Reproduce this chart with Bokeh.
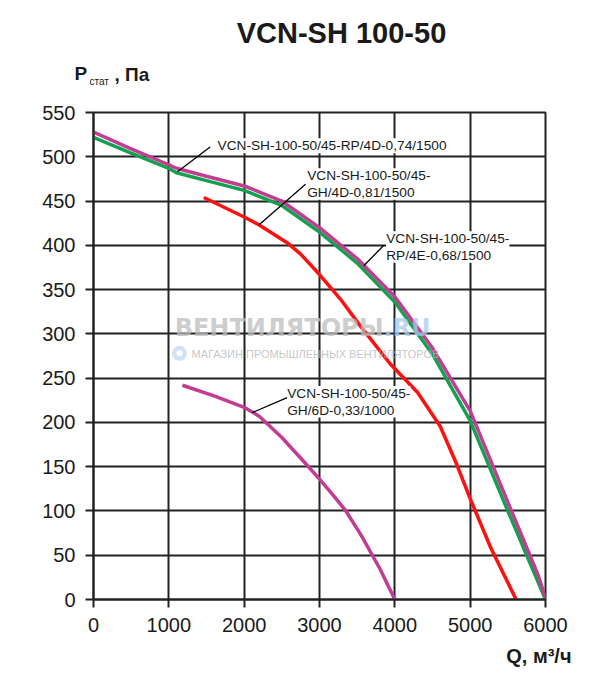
from bokeh.plotting import figure
from bokeh.models import Range1d, FixedTicker, Label
from bokeh.embed import file_html
from bokeh.resources import INLINE

# Кривые вентиляторов VCN-SH 100-50 (Q, м3/ч -> Pстат, Па)
q_rp4d = [0, 500, 1000, 1100, 1500, 2000, 2500, 3000, 3500, 4000, 4500, 5000, 5500, 5900, 6000]
p_rp4d = [528, 509, 491, 487, 478, 467, 450, 420, 385, 342, 284, 213, 110, 28, 2]

q_rp4e = [0, 500, 1000, 1100, 1500, 2000, 2500, 3000, 3500, 4000, 4500, 5000, 5500, 6000]
p_rp4e = [522, 504, 487, 482, 473, 462, 445, 415, 380, 336, 277, 202, 100, 0]

q_gh4d = [1464, 2000, 2200, 2570, 2750, 3000, 3280, 3540, 3800, 3940, 4300, 4600, 4820, 5000, 5270, 5610]
p_gh4d = [454, 432, 423, 403, 390, 367, 339, 309, 281, 266, 234, 196, 153, 114, 59, 0]

q_gh6d = [1180, 1600, 2000, 2200, 2500, 2800, 3000, 3200, 3350, 3550, 3800, 4000]
p_gh6d = [242, 230, 217, 207, 183, 155, 136, 116, 100, 73, 35, 0]

q_ticks = [0, 1000, 2000, 3000, 4000, 5000, 6000]
p_ticks = [0, 50, 100, 150, 200, 250, 300, 350, 400, 450, 500, 550]

# подписи кривых: текст, позиция текста, выноска (x0, y0, x1, y1)
labels = ["VCN-SH-100-50/45-RP/4D-0,74/1500",
          "VCN-SH-100-50/45-\nGH/4D-0,81/1500",
          "VCN-SH-100-50/45-\nRP/4E-0,68/1500",
          "VCN-SH-100-50/45-\nGH/6D-0,33/1000"]
label_x = [1646, 2837, 3885, 2571]
label_y = [521, 487, 416, 241]
lead_x0 = [1115, 2195, 3588, 2106]
lead_y0 = [483, 423, 377, 211]
lead_x1 = [1548, 2814, 3854, 2571]
lead_y1 = [511, 469, 400, 228]

FONT = "Liberation Sans"
GRID = "#222222"
INK = "#1a1a1a"

p = figure(frame_width=452, frame_height=487, min_border_left=93, min_border_right=47,
           min_border_top=112, min_border_bottom=71,
           x_range=Range1d(0, 6000), y_range=Range1d(0, 550),
           output_backend="svg", toolbar_location=None, tools="")

p.outline_line_color = GRID
p.outline_line_width = 2
p.background_fill_color = "white"

for ax, ticks in ((p.xaxis, q_ticks), (p.yaxis, p_ticks)):
    ax.ticker = FixedTicker(ticks=ticks)
    ax.axis_line_color = GRID
    ax.axis_line_width = 2
    ax.major_tick_line_color = GRID
    ax.major_tick_line_width = 2
    ax.major_tick_in = 0
    ax.major_tick_out = 8
    ax.minor_tick_line_color = None
    ax.major_label_text_font = FONT
    ax.major_label_text_font_size = "20px"
    ax.major_label_text_color = INK
    ax.major_label_standoff = 10

p.xgrid.ticker = FixedTicker(ticks=q_ticks)
p.ygrid.ticker = FixedTicker(ticks=p_ticks)
for g in (p.xgrid, p.ygrid):
    g.grid_line_color = GRID
    g.grid_line_width = 2

# водяной знак
p.add_layout(Label(x=290, y=272, x_units="screen", y_units="screen", text="ВЕНТИЛЯТОРЫ",
                   text_align="right", text_baseline="middle", text_font="DejaVu Sans",
                   text_font_style="bold", text_font_size="24px", text_color="#bdbdbd",
                   text_alpha=0.75))
p.add_layout(Label(x=290, y=272, x_units="screen", y_units="screen", text=".RU",
                   text_align="left", text_baseline="middle", text_font="DejaVu Sans",
                   text_font_style="bold", text_font_size="24px", text_color="#a9c9ec",
                   text_alpha=0.75))
p.add_layout(Label(x=98, y=246, x_units="screen", y_units="screen",
                   text="МАГАЗИН ПРОМЫШЛЕННЫХ ВЕНТИЛЯТОРОВ",
                   text_baseline="middle", text_font=FONT, text_font_size="11px",
                   text_color="#b8b8b8", text_alpha=0.8))
p.scatter([1142], [278], size=15, fill_color="#c5dbf2", line_color=None, alpha=0.8)
p.scatter([1142], [278], size=6, fill_color="white", line_color=None)

# кривые
p.line(q_gh6d, p_gh6d, line_color="#c13c92", line_width=3.5)
p.line(q_gh4d, p_gh4d, line_color="#ff1010", line_width=3.5)
p.line(q_rp4e, p_rp4e, line_color="#14a050", line_width=3.5)
p.line(q_rp4d, p_rp4d, line_color="#c13c92", line_width=3.5)

p.segment(lead_x0, lead_y0, lead_x1, lead_y1, line_color="black", line_width=1.3)

for t, x, y in zip(labels, label_x, label_y):
    p.add_layout(Label(x=x, y=y, text=t, text_align="left", text_baseline="top",
                       text_font=FONT, text_font_size="13.7px", text_color=INK,
                       text_line_height=1.1, background_fill_color="white"))

# заголовок и подписи осей (вне области графика, в боковых панелях)
p.add_layout(Label(x=248, y=80, x_units="screen", y_units="screen", text="VCN-SH 100-50",
                   text_align="center", text_baseline="middle", text_font=FONT,
                   text_font_style="bold", text_font_size="29px", text_color=INK), "above")
p.add_layout(Label(x=-19, y=7, x_units="screen", y_units="screen", text="P",
                   text_baseline="alphabetic", text_font=FONT, text_font_style="bold",
                   text_font_size="19px", text_color=INK), "above")
p.add_layout(Label(x=-4, y=-22, x_units="screen", y_units="screen", text="стат",
                   text_baseline="alphabetic", text_font=FONT,
                   text_font_size="10px", text_color=INK), "above")
p.add_layout(Label(x=21, y=-26, x_units="screen", y_units="screen", text=", Па",
                   text_baseline="alphabetic", text_font=FONT, text_font_style="bold",
                   text_font_size="19px", text_color=INK), "above")
p.add_layout(Label(x=478, y=1, x_units="screen", y_units="screen", text="Q, м³/ч",
                   text_align="right", text_baseline="alphabetic", text_font=FONT,
                   text_font_style="bold", text_font_size="20px", text_color=INK), "below")

open("out.html", "w").write(file_html(p, INLINE))
